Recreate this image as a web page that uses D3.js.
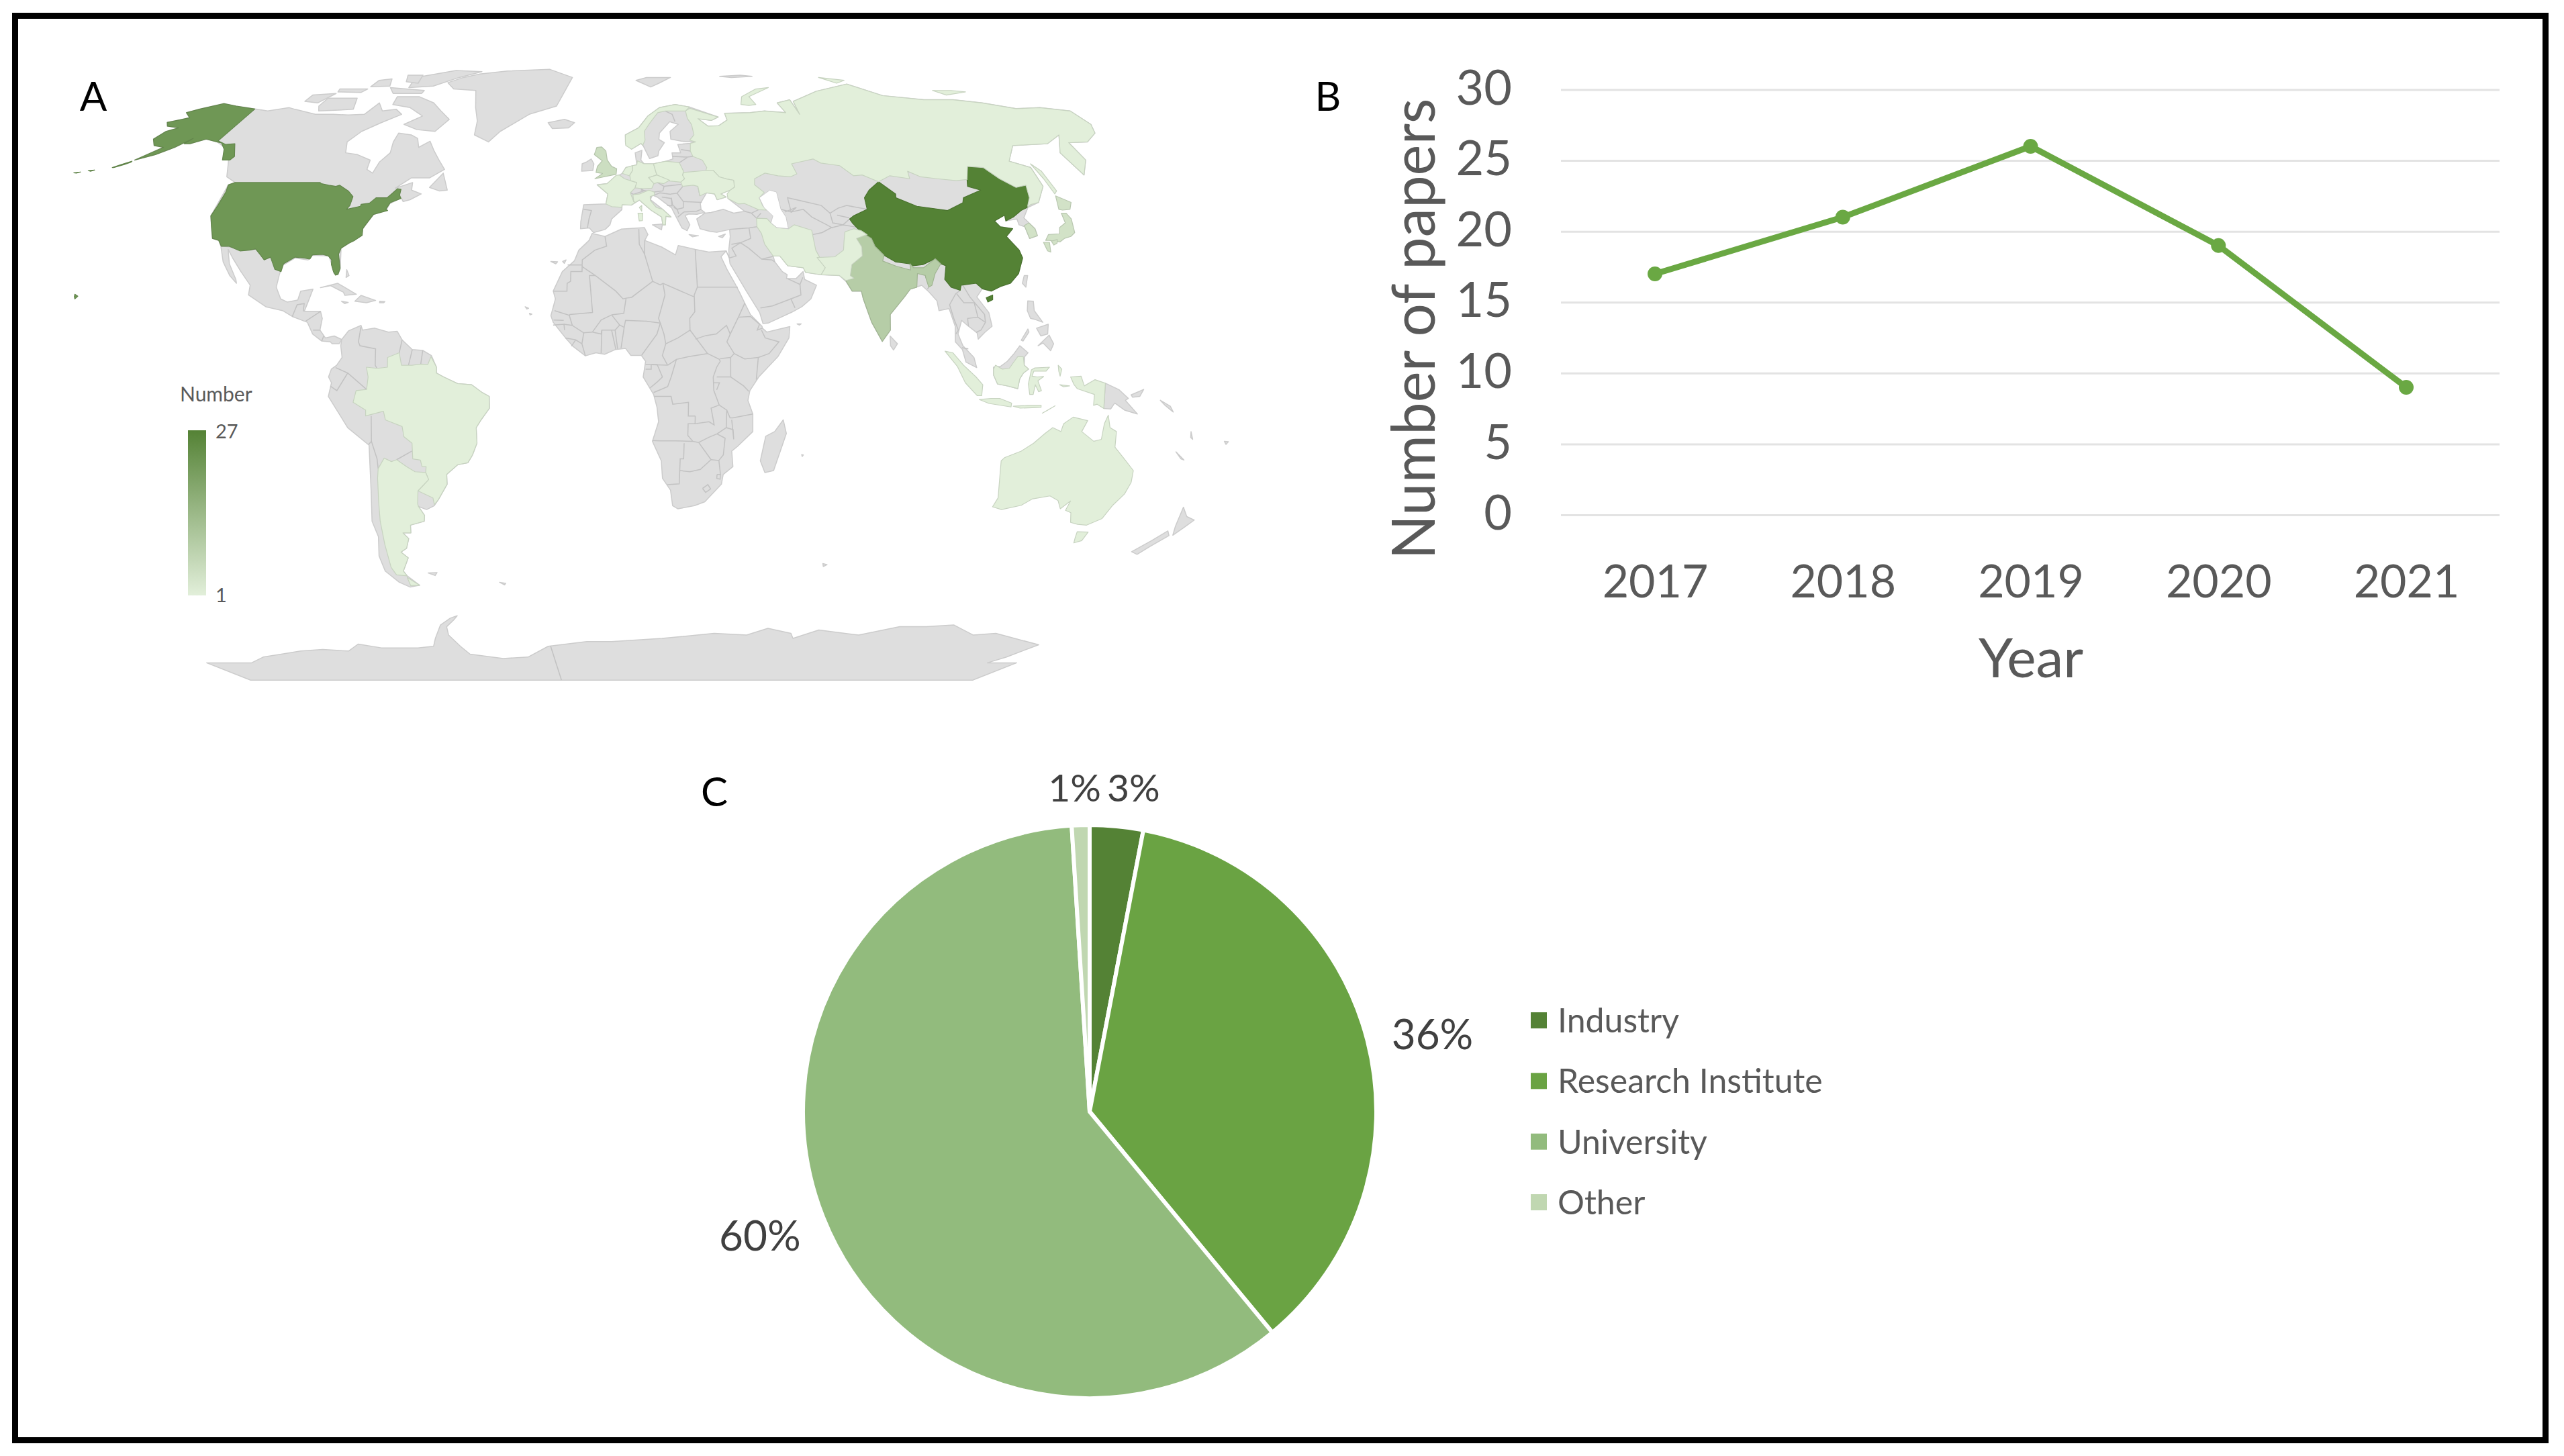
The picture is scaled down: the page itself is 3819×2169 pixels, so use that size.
<!DOCTYPE html>
<html>
<head>
<meta charset="utf-8">
<script src="https://cdn.jsdelivr.net/npm/d3@7"></script>
<style>
  html, body { margin: 0; background: #fff; }
  text { font-family: Lato, sans-serif; }
</style>
</head>
<body>
<svg id="figure" width="3819" height="2169"></svg>
<script>
// panel B
var years = ['2017', '2018', '2019', '2020', '2021'];
var paperCounts = [17, 21, 26, 19, 9];
var yTicks = [0, 5, 10, 15, 20, 25, 30];

// panel C
var orgNames = ['Industry', 'Research Institute', 'University', 'Other'];
var orgShares = [3, 36, 60, 1];
var orgColors = ['#548235', '#6aa343', '#92bb7d', '#c0d7b1'];

// panel A, papers per country and [lon, lat] outlines
var countryNames = ['China', 'USA', 'India', 'UK', 'Japan', 'South Korea', 'Russia', 'Brazil', 'Argentina',
  'Australia', 'Indonesia', 'France', 'Germany', 'Italy', 'Poland', 'Czechia', 'Netherlands', 'Ukraine',
  'Norway', 'Iran', 'Pakistan'];
var countryPapers = [27, 22, 9, 5, 4, 4, 1, 1, 1, 1, 1, 1, 1, 1, 1, 1, 1, 1, 1, 1, 1];

var legendRange = [1, 27];

// Robinson table, every 5 degrees of latitude
var robinsonLat = d3.range(0, 95, 5);
var robinsonLen = [1, .9986, .9954, .99, .9822, .973, .96, .9427, .9216, .8962, .8679, .835, .7986, .7597, .7186, .6732, .6213, .5722, .5322];
var robinsonDrop = [0, .062, .124, .186, .248, .31, .372, .434, .4958, .5571, .6176, .6769, .7346, .7903, .8435, .8936, .9394, .9761, 1];

var greyLand = [
  // north and central america
  [[-168,65.6],[-164,66.5],[-162,67],[-166,68.5],[-163,69.5],[-156.5,71.3],[-150,70.5],[-141,69.6],[-135,69],[-128,70],[-125,69.5],[-115,68],[-108,68],[-102,67.8],[-96,68],[-94,71.5],[-90,69],[-85,69.5],[-81.5,68],[-87,65.5],[-92,63],[-94.5,60],[-92.5,57],[-88,56.5],[-82.5,55],[-82,52.5],[-79.5,51.5],[-79,54.5],[-77,57],[-78,60],[-78,62.5],[-73,62],[-70,61],[-68,58.5],[-65,60.2],[-62,57.5],[-59,55],[-56,52.5],[-60,50.2],[-66,50.2],[-70,47.5],[-65,49],[-64.5,47],[-61,46],[-64,44.5],[-66,44],[-67,45],[-70,43.5],[-70.5,41.8],[-74,40.6],[-76,37],[-75.7,35.2],[-78,34],[-81,32],[-80,27],[-80.3,25.2],[-81.5,25.5],[-82.8,28],[-84,30],[-89,30.2],[-90,29],[-94,29.5],[-97.3,27.5],[-97.5,25],[-97.8,22],[-96,19],[-94,18.2],[-91,18.7],[-90.5,21],[-87,21.5],[-88,18],[-88.7,15.8],[-84,15.8],[-83.3,14],[-83.7,11],[-82,9],[-79.5,9.5],[-77.3,8.6],[-78,7.5],[-80,7.5],[-80.5,8],[-83,8.2],[-85.7,10],[-87.5,13],[-92,14.5],[-95,16],[-100,17],[-105.5,20],[-105.5,22.5],[-109,26],[-112.5,29.5],[-114.7,31.7],[-113,28],[-110,24],[-109.6,23],[-112,25],[-115,28.5],[-117.2,32.5],[-118.5,34],[-120.6,34.5],[-122.5,37.5],[-124.3,40.3],[-124.7,48.3],[-123,49],[-127,50.5],[-130,54],[-133,57],[-137,58.7],[-141,60],[-146,60.8],[-150,59.5],[-152,59.5],[-151,61],[-154,58.5],[-158,56.5],[-163,55],[-158,58.5],[-162,59],[-165,60.8],[-164,63],[-161,64],[-166,64.5]],
  [[-80,73.5],[-72,71.5],[-67,69],[-62,66.5],[-65,63],[-72,63.5],[-78,65],[-73,67.5],[-80,70],[-88,71],[-89,73.5]],
  [[-117,73],[-105,73],[-102,69.5],[-115,69],[-117,70.5]],
  [[-125,74],[-116,74.5],[-119,71.5],[-125,72]],
  [[-90,80],[-75,83],[-62,82.5],[-70,80],[-78,77],[-88,76.5]],
  [[-96,76.5],[-80,75.5],[-80,74.5],[-92,74.5]],
  [[-95,81],[-88,81],[-86,78],[-92,78.5]],
  [[-117,76],[-105,76],[-106,74.8],[-116,75]],
  [[-105,79],[-100,79.5],[-97,77],[-105,76.8]],
  [[-59,47.7],[-56,51.5],[-53,47],[-55.5,46.8]],
  [[-73,78.2],[-68,76],[-58,75.5],[-54,70],[-51,66],[-50,62],[-44,60],[-41,63],[-32,68],[-22,70.5],[-20,75],[-18,80],[-30,83.5],[-50,82.8],[-62,81.5],[-68,80]],
  [[-84.9,21.9],[-80,23],[-74.2,20.2],[-77.5,19.9],[-78,20.7],[-82,22.4]],
  [[-74.4,18.4],[-72.8,19.9],[-68.4,18.6],[-71,18]],
  [[-78.3,18.4],[-76.3,18.1],[-77.3,17.8]],
  [[-67.2,18.4],[-65.7,18.3],[-66,18],[-67.2,18]],
  [[-78,26.5],[-77,25],[-77.8,24.5]],
  // south america
  [[-77.3,8.6],[-75.5,10.8],[-72,12.2],[-71.5,11],[-68,11.5],[-64,10.5],[-61.5,10.7],[-60,8.5],[-57,6],[-54,5.8],[-51.5,4.5],[-50,1.5],[-50,0],[-48,-1],[-44,-2.7],[-40,-3],[-37,-5],[-35,-6],[-35,-9],[-37.5,-12],[-39,-14],[-39,-18],[-40.5,-21],[-42,-23],[-45,-23.5],[-48.5,-26],[-48.7,-28.5],[-52,-32.5],[-53.5,-34],[-56,-35],[-58.3,-34.2],[-57,-36.5],[-57.5,-38],[-62,-39],[-62.5,-41],[-65,-41],[-63.7,-42.5],[-65.3,-45],[-67.5,-46],[-65.8,-47.5],[-69,-51],[-68.4,-52.3],[-65.5,-54.8],[-69,-55.3],[-72,-54],[-75,-51],[-75,-47],[-73,-42],[-73.5,-38],[-71.5,-30],[-70.3,-18.5],[-76,-14],[-81,-6],[-80,-2.5],[-80.8,-1],[-80,1],[-78.5,2],[-77,4],[-77.5,7]],
  [[-61,-51.5],[-58,-51.4],[-59,-52.2]],
  [[-38,-54],[-36,-54.3],[-36.5,-54.7]],
  // africa
  [[-5.9,35.8],[-2,35],[3,36.9],[10,37.3],[11,35.5],[10,34],[15,32.3],[19,30.3],[20,32.7],[25,31.7],[29,31],[32.5,31.2],[34.2,31.3],[32.5,29.8],[34,26.5],[36,23],[37.3,20.5],[38.5,18],[40,15],[43.2,12],[43.3,11.5],[44.5,10.5],[51.2,11.9],[50.8,9],[47.5,4.2],[42,-1],[39.5,-4.5],[39,-7],[40.5,-10.5],[40.7,-15],[36.5,-18.8],[34.9,-20],[35.5,-24],[32.8,-26],[32.5,-28.5],[28,-33],[25,-34],[20,-34.8],[18.4,-34],[17.5,-30],[15,-27],[14.5,-22.5],[11.8,-17.5],[13.5,-12.5],[13,-8.8],[12,-5.5],[9,-1],[9.7,3],[8.5,4.5],[5.5,4.5],[4,6.3],[1,6],[-2,4.8],[-4.5,5.2],[-7.5,4.4],[-11,6.8],[-13.2,9],[-15,11],[-16.8,13],[-17.5,14.7],[-16.3,19],[-17,21],[-14.5,26],[-11,28.8],[-9.8,31.5],[-6.8,34]],
  [[49.3,-12],[50.4,-15.5],[47.5,-25],[45,-25.5],[43.4,-22.5],[44.5,-16.2],[47,-15]],
  [[-18,28.6],[-16,28.5],[-16.5,28]],
  [[-14.5,28.6],[-13.5,29],[-14,28.1]],
  [[-25,17],[-24,16.6],[-24.5,16.4]],
  [[-23.7,15.3],[-23,15.1],[-23.5,14.9]],
  [[53.3,12.6],[54.5,12.6],[54,12.3]],
  [[55.3,-20.9],[55.8,-21],[55.5,-21.4]],
  // eurasia
  [[-9.5,37],[-9.5,38.8],[-8.8,43.2],[-1.8,43.4],[-1.2,46],[-4.7,48.4],[-1.5,48.7],[1.5,50.5],[3.5,51.4],[4.8,53],[8.5,53.7],[8.2,57],[10.6,57.7],[10,55],[11,54],[14.2,54],[18.5,54.7],[21,55.3],[21,57],[24,57],[23.5,59.3],[28,59.6],[30,60],[25,60.2],[21.3,60.8],[21.5,63],[25,65],[22,65.8],[17.5,62.5],[17,60.7],[18.8,59.8],[16.5,57.5],[16,56.2],[13,55.4],[11.2,58.9],[10.5,59.6],[7,58],[5,59.5],[5,62],[10,64],[14,67.5],[19,70],[25.5,71],[31,70.2],[41,67.2],[38,66.2],[33,66.7],[36,64.5],[40,64.6],[44,66.3],[44,68.3],[54,68.5],[60,69],[68,68.5],[67,71.5],[73,72.5],[73,68],[74,72],[80,73.5],[87,75.2],[104,77.7],[113,73.8],[128,72.5],[140,72.5],[150,71.5],[160,69.7],[170,70],[180,69],[180,65],[177,62.5],[170,60],[163,59.8],[162,55],[156.5,51],[156,57],[163,62],[155,59.5],[142,59],[135.5,54.7],[141,53],[140,48],[135,43.8],[130.7,42.5],[127.5,39.8],[129.3,37],[129,35.2],[126.3,34.5],[126.5,37.5],[125,38],[125.2,39.5],[121.5,39],[122,40.5],[118,39],[119,37.5],[122.5,37],[119.5,35],[121.8,31.5],[122,29.5],[119.5,25.5],[116.5,23],[113.5,22.2],[110.5,21],[108,21.6],[106,19.5],[108.8,15.5],[109.3,12],[107,10.4],[105,8.7],[104.8,10.3],[102.5,12],[100.7,13.5],[99.3,10],[100.5,7],[103.5,4],[104.2,1.4],[101.2,2.8],[100.3,6],[98.4,8],[98.7,12],[97.5,16.5],[94.5,16],[94.3,18.5],[92.3,20.8],[90.5,22.5],[87,21.5],[85,19.5],[80.3,15],[80,11],[77.5,8.1],[74.8,13],[73,19],[72.7,21],[70,21],[68.5,23.5],[66.8,25],[61.5,25.2],[57,25.8],[56.5,27],[52,27.5],[50,30],[48,30],[48.3,28.5],[50.2,26],[51.5,25.2],[51.2,24.2],[54,24.2],[56.3,26],[56.5,24],[59.8,22.5],[57.8,19],[55,17],[52,15.6],[45,12.8],[43.5,12.7],[42.7,15.5],[39.2,21],[35,28],[34.9,29.5],[35,31.5],[35.9,35],[36,36.8],[32,36.1],[30,36.3],[27,37],[26.3,39.5],[29,41],[31,41.2],[35,42],[38,41],[41.5,41.5],[37,44.8],[38,47],[35,46],[36.5,45.2],[33.5,44.5],[33,46],[30.5,46.3],[28,43.5],[28,41.9],[29,41.2],[26.5,40.7],[24,40.8],[22.8,40.4],[24,38],[23,36.5],[21.5,37.2],[19.5,41],[18.8,42.4],[14.5,45.2],[13,45.7],[12.3,44.5],[16,42],[18.4,40],[16.8,40.2],[16.5,38],[15.7,38],[15.5,40],[12.3,41.8],[10.3,43.3],[8.8,44.4],[6.2,43.1],[3.3,43.2],[3.2,41.9],[0,39.5],[-0.5,38],[-2,36.8],[-5.5,36],[-6.8,37.2]],
  [[-10,52],[-6.3,52.2],[-6,54],[-7,55.3],[-8.5,54.5],[-10,54]],
  [[-24,65.5],[-18,66.5],[-14,65.5],[-16,64],[-22,63.8]],
  [[12.5,38],[15.6,38.2],[15.2,36.7]],
  [[23.5,35.5],[26.3,35.2],[24.5,34.9]],
  [[32.4,35],[34.5,35.6],[33.5,34.7]],
  [[11,79],[16,80],[27,80],[21,78],[17,76.7]],
  [[50,80.5],[60,81],[65,80.5],[55,80]],
  [[121,25],[122,25],[120.8,22],[120,23]],
  [[79.8,9.5],[81.8,7.5],[80.6,5.9],[79.8,7]],
  [[120,16],[120.6,18.5],[122.2,18.4],[122,16],[124,13],[122,13.7],[120.6,14]],
  [[122,7],[125.4,9.7],[126.5,7.5],[125.5,5.7],[123.5,7.7]],
  [[122,11.5],[125.5,12.5],[125,10],[123,9.5]],
  [[117.3,8.4],[119.5,11.3],[119.7,10.5],[117.8,8.2]],
  [[109,1.5],[111,1.7],[113,3],[115,5],[116.8,7],[119,5.2],[118,4.2],[117.8,2],[119,1],[117.5,0],[116.5,-1.5],[116,-4],[113,-3.3],[110.2,-2.8],[109,-0.5]],
  [[141,-2.6],[145,-4.3],[147.8,-6.5],[147,-7],[150.8,-10.5],[147,-9.5],[144,-7.7],[143,-9.2],[141,-9.1]],
  [[148.5,-5.6],[152,-4.2],[151,-6],[149,-6.2]],
  [[157,-7],[160,-8.5],[161,-10],[158.5,-8.3]],
  [[164,-20.2],[167,-22.3],[166,-22]],
  [[167,-15],[168,-17],[167.3,-16.5]],
  [[177.3,-17.5],[178.5,-17.6],[178,-18.3]],
  [[69,-49],[70.5,-49.3],[69.5,-49.8]],
  // new zealand
  [[172.7,-34.4],[175.5,-36.8],[178.5,-37.7],[177,-39.5],[175.3,-41.6],[174,-39.3]],
  [[172.7,-40.5],[174.2,-41.7],[171,-44.5],[169,-46.6],[166.5,-45.9],[170,-43]],
  // antarctica, cut off at 85 south
  [[-180,-78],[-160,-78],[-150,-76],[-140,-75],[-130,-74],[-120,-73.5],[-110,-74],[-103,-71.8],[-95,-73],[-80,-73],[-73,-72.5],[-70,-70],[-65,-66],[-60,-64],[-57,-63.3],[-59,-64.5],[-63,-66.5],[-64,-69],[-62,-72.5],[-60,-75],[-47,-76.5],[-36,-76],[-26,-72.5],[-10,-71],[0,-71],[20,-70],[40,-68.5],[53,-69],[60,-67],[70,-68.5],[72,-70],[80,-67.5],[97,-69],[110,-66.5],[120,-66.5],[130,-66],[142,-69],[150,-68.5],[160,-70],[174,-72],[170,-76],[167,-78],[180,-78],[180,-85],[-180,-85]]
];

var greyBorders = [
  // africa
  [[-2,35],[-1.5,32.5],[-5,31.5],[-8.7,29],[-8.7,27.7]],[[-13,27.7],[-8.7,27.7]],
  [[-17,21],[-13,21],[-13,23],[-12,23.5],[-12,26],[-8.7,26],[-8.7,27.7]],
  [[-4.8,25],[-8.7,27.3]],[[-4.8,25],[-6.5,25],[-5.5,15.5],[-12,15],[-12.2,14.8],[-16.5,16]],
  [[-4.8,25],[1.2,21],[3.3,19],[4.2,19.2],[5.8,19.4],[12,23.5]],
  [[12,23.5],[9.8,30.5],[10,34]],[[8.3,36.9],[8.3,33],[9.8,30.5]],
  [[25,31.7],[25,22]],[[25,22],[24,20],[24,19.5]],[[24,19.5],[15,23],[14.2,22.6],[12,23.5]],[[25,22],[36.8,22]],
  [[15,23],[15.5,20],[13.5,14],[14,12.8]],[[24,19.5],[24,15.7],[22.5,14],[22.5,11],[19,9],[15.5,7.5],[15,10],[14,12.8]],
  [[4.2,19.2],[3.5,15.3],[0,14.9]],[[0,14.9],[-3,13.6],[-5.5,10.5]],[[-12.2,14.8],[-11.3,12.2],[-8,10.3],[-5.5,10.5]],
  [[14,12.8],[10,13.3],[4,13.5],[3.6,11.7],[2.7,6.4]],[[0,14.9],[2.3,12.3],[3.6,11.7]],
  [[-5.5,10.5],[-3,10],[-2.8,11],[1,11],[2.3,12.3]],[[-2.8,11],[-3,5.1]],[[0,11],[1.2,6.1]],[[1,11],[1.7,6.2]],
  [[-8,10.3],[-8.5,7.5],[-7.5,4.4]],[[-11.5,6.9],[-10.3,8.5]],[[-13.2,9],[-10.3,8.5],[-8.5,7.5]],
  [[-16.8,12.3],[-13.7,12.5],[-13.5,11]],[[-13.7,12.5],[-11.3,12.2]],[[-16.7,13.6],[-13.8,13.5]],
  [[14,12.8],[13,10],[8.6,4.6]],[[15.5,7.5],[14.5,4.5],[16,2]],[[9.7,2.2],[16,2]],
  [[11.3,2.2],[13,2.2],[14.5,-1],[13,-2.3],[11,-3.8]],[[9.7,1],[11.3,1],[11.3,2.2]],
  [[22.5,11],[27.4,5]],[[16,2],[18.5,3.5],[22,4.2],[27.4,5]],[[18.5,3.5],[17,-1],[16,-3.5],[12,-5]],
  [[12.2,-6],[17,-6],[17.5,-8],[22,-7.5],[22,-11],[24,-11]],[[24,-11],[24,-13],[28,-12.5],[29.5,-13.3],[28.5,-9],[30.8,-8.2]],
  [[30.8,-8.2],[29.2,-4.5],[29,-1],[30,1.5],[31,3],[30.8,3.5],[27.4,5]],
  [[24,8.7],[27,9.6],[30,10],[33,12.2],[34,10]],[[34,10],[33,8],[35,5],[34,4]],[[31,3.7],[34,4]],
  [[38.6,18],[36.5,14.3],[34,10]],[[36.5,14.3],[40,14.5],[42.5,12.5]],[[42.5,12.5],[41.8,11],[43.3,11.5]],
  [[43,11],[44,9],[47.9,8],[45,5],[41.9,4],[41.3,-1.7]],[[35,5],[38,3.6],[41.9,4]],[[34,4],[34,-1]],
  [[34,-1],[37.7,-3.3],[39.2,-4.7]],[[30,-1],[34,-1]],[[29,-2.5],[30.8,-2.5],[30,-4.3]],
  [[30.8,-8.2],[33,-9.5],[34,-11.5],[34.8,-11.5],[40.5,-10.5]],[[33,-9.5],[33,-14],[35,-14.5],[35.3,-17],[34.5,-12]],
  [[30.4,-15.6],[33,-14]],[[30.4,-15.6],[32.8,-16.7],[32.5,-21],[31.3,-22.4],[32,-26]],
  [[25.2,-17.8],[28,-16.5],[30.4,-15.6]],[[24,-13],[22,-13],[22,-16],[23.5,-17.5],[25.2,-17.8]],
  [[11.8,-17.3],[14,-17.4],[18.5,-17.4],[23.5,-17.5]],[[21,-18],[21,-22],[20,-22],[20,-28.4],[16.5,-28.6]],
  [[25.2,-17.8],[29,-22.2],[26,-24.7],[23,-25.3],[20,-25]],[[29,-22.2],[31.3,-22.4]],
  [[27,-29.6],[28.5,-28.6],[29.4,-29.7],[28,-30.6],[27,-29.6]],[[31,-26],[32,-26],[32,-27.2],[31,-27],[31,-26]],
  // south and central america
  [[-72,11.8],[-72.5,8],[-72,7],[-67.5,6.2],[-67.5,2],[-67,1.2]],[[-78.8,1.4],[-75.3,0],[-70,-4.2]],
  [[-80.3,-3.4],[-78.5,-4.5],[-75.3,0]],[[-69,-11],[-69.5,-17.5],[-68.4,-22],[-68.4,-24.5]],[[-70.4,-18.3],[-69.5,-17.5]],
  [[-58,-20],[-62.7,-22.2]],[[-60,8.5],[-60.7,5.2]],[[-57,6],[-58,2]],[[-54,5.8],[-54.5,2.3]],
  [[-117.1,32.5],[-106.5,31.8]],[[-92,14.5],[-91,17.5],[-89,17.8],[-89,15.8]],[[-88,13.3],[-84,15.8]],
  [[-85.7,11],[-83.7,11]],[[-83,8.2],[-82.5,9.5]],
  // europe
  [[24,65.8],[23.5,68],[21,69]],[[21,56],[26,55.8],[28,56]],[[24.3,57.9],[27.5,57.5]],[[23,54.3],[26,55.7]],
  [[17,48],[22.6,48.5]],[[21,46.2],[23,47.9]],[[22.7,44],[28.5,43.8]],
  [[19,46],[21,46.2],[22.7,44],[22.5,42.4],[20.5,42],[19.2,43.2],[19,45]],[[22.5,41.3],[26.5,41.5],[28,42]],
  [[20.5,40],[22.5,41.3]],[[19.5,42.5],[20.5,42],[20.9,40.8]],[[13.7,45.7],[15.5,46.3],[19,45.9]],
  [[16,45.2],[19,44.8],[19,42.9],[17.5,43]],[[9.6,47.4],[9.6,47],[13.7,46.5],[16.5,46.8],[17,48],[15,49]],
  [[6,46.3],[7,45.9],[10.4,46.8],[9.6,47.5]],[[-8.8,42],[-6.3,41.7],[-7,39.5],[-7.4,37.2]],[[28.2,45.5],[28,48]],
  // middle east and asia
  [[36,36.8],[42,37.2],[44.5,37.5]],[[44.8,39.7],[43.5,41]],[[41.5,41.5],[43.5,41],[46,41.9]],[[44.8,39.7],[46.5,41]],
  [[36,33],[38.8,33.4],[42,34.5],[42,37.2]],[[38.8,33.4],[41,32],[44.5,29.2],[47.5,29.8],[48,30]],
  [[35,29.5],[37,30],[36,32],[38.8,33.4]],[[34.2,31.3],[34.9,29.5]],[[44.5,29.2],[47.5,29],[48.3,28.5]],
  [[51.5,24.2],[55,22.7],[56,24.5]],[[55,22.7],[55,20],[52,19],[53,16.7]],[[43,16.7],[46.5,17.2],[52,19]],
  [[53,42],[56,41.3],[56,45],[61,44],[66,43],[68,41],[71,42.3],[74,43],[80,42]],[[54,41.3],[58,42.5],[56,41.3]],
  [[56,41.3],[60,42],[62,40],[66,38],[67.5,37.2]],[[61,35.5],[64,36],[67,37.2],[71,38],[74.9,37.4]],
  [[68,41],[68,38.5],[71,38],[73.5,39.5]],[[70,40.5],[73.5,39.8]],
  [[101.5,21.2],[100,20.3],[97.8,17.5],[98.5,14],[99.5,11],[98.7,10]],[[102.5,22.5],[104,19.5],[107.5,15],[107.5,13]],
  [[100.3,20.3],[102,18],[105,18],[105.5,14.3]],[[102.5,12],[102.5,14],[105.5,14.3],[107.5,13],[106,11],[104.5,10.4]],
  [[100.2,6.5],[102,6.2]],[[92,21.5],[92.5,22]],
  // antarctic seam
  [[-25,-72.5],[-25,-85]]
];

var countryShapes = [
  // china
  [[[73.5,39.5],[75,40.3],[80,42],[80.5,45],[83,47],[87.3,49.2],[91,46],[90.5,45],[96,42.8],[105,41.7],[111,43.7],[112,45],[119,47],[115.5,48],[116.7,49.8],[120,53.3],[125,53],[127.5,50],[131,47.7],[134.7,48.3],[133,45],[131,43],[130.5,42.5],[128,41.7],[124.4,40],[121.5,39],[122,40.5],[118,39],[119,37.5],[122.5,37],[119.5,35],[121.8,31.5],[122,29.5],[119.5,25.5],[116.5,23],[113.5,22.2],[110.5,21],[108,21.6],[106.5,23],[102,22.5],[101.5,21.2],[99,22],[97.5,24],[98.7,27.5],[97.3,28],[96,29.3],[92,27.8],[89,27.5],[88,28],[84,28.5],[81,30.2],[79,32.5],[78.5,34.5],[75.5,36.6],[74,38.5]],
   [[108.7,19.3],[110.7,20],[110.5,18.8],[109,18.2]]],
  // usa
  [[[-124.7,48.4],[-123,49],[-95.2,49],[-94.6,48.7],[-92,48.3],[-89.5,48],[-88.4,48.3],[-84.8,46.8],[-82.5,45.3],[-82.4,43],[-83,42],[-79,42.8],[-79,43.3],[-76.5,43.6],[-75,45],[-71.5,45],[-70.3,46.2],[-69.2,47.4],[-68,47.2],[-67.8,45.7],[-67,44.8],[-70,43.7],[-70.7,42],[-70,41.7],[-74,40.7],[-75.5,38],[-76,37],[-75.6,35.3],[-77.5,34],[-79,33.3],[-81,32],[-81.3,30.5],[-80,26.8],[-80.3,25.3],[-81,25.1],[-81.8,26],[-82.8,27.8],[-83,29],[-84.2,30],[-86,30.4],[-89,30.3],[-89.5,29.2],[-91.5,29.5],[-94,29.7],[-97,28],[-97.2,26],[-99.2,26.6],[-101.3,29.7],[-103,29],[-104.8,30.5],[-106.5,31.8],[-108.2,31.5],[-111,31.3],[-114.8,32.5],[-117.1,32.5],[-118.5,34],[-120.6,34.5],[-122.5,37.5],[-124.3,40.3],[-124,43],[-124,46.5]],
   [[-141,69.6],[-150,70.5],[-156.5,71.3],[-163,69.5],[-166,68.5],[-162,67],[-164,66.5],[-168,65.6],[-166,64.5],[-161,64],[-164,63],[-165,60.8],[-162,59],[-158,58.5],[-163,55],[-158,56.5],[-154,58.5],[-151,61],[-152,59.5],[-150,59.5],[-146,60.8],[-141,60],[-139,59.7],[-136,58],[-133,55],[-130.5,55],[-130,56],[-134,59.5],[-137,59.3],[-141,60.3]],
   [[-163.5,54.7],[-166,53.8],[-168,53],[-167.5,53],[-165,53.8],[-163.5,54.4]],
   [[-175,52.2],[-173,52.3],[-174,52]],
   [[-179,51.6],[-177,51.8],[-178,51.5]],
   [[-156,20.2],[-155,19.7],[-155.7,19],[-156,19.6]]],
  // india
  [[[74,34.5],[77,35.5],[78.5,34.5],[79,32.5],[81,30.2],[80.3,28.7],[84,27.4],[88,26.4],[88.2,28],[89,27],[92,27],[96,29.3],[97.3,28],[95,25.5],[93.5,22.5],[92.5,22],[92,24.5],[92,25],[89.8,25.5],[89,22],[87,21.5],[85,19.5],[80.3,15],[80,11],[77.5,8.1],[74.8,13],[73,19],[72.7,21],[70,21],[68.5,23.7],[71,24.3],[70,25],[71,27.8],[74.5,30],[75,32.3]]],
  // uk
  [[[-5.5,50],[1.5,51.2],[1.7,52.7],[0,53.3],[-1.5,55],[-2,57.5],[-3.5,58.6],[-5.2,58.5],[-6,56.5],[-3.2,54.8],[-4.8,53.3],[-5.2,51.7],[-3,51.4]]],
  // japan
  [[[130.9,34],[132.5,35.5],[136,35.7],[137,37.3],[139.5,38.5],[140,41],[141.5,41],[142,39.5],[140.8,36],[139,35],[136.8,34.5],[135,33.6],[132,34]],
   [[140,42],[141.8,45.5],[145.3,43.8],[143.5,42],[141,41.8]],
   [[130,33.5],[131.8,33.5],[131,31],[130.2,31.3]],
   [[132.5,33.8],[134.5,34.2],[134,33.3],[132.8,32.8]]],
  // south korea
  [[[126.3,34.5],[129,35.2],[129.3,37],[128.3,38.5],[126.5,37.8]]],
  // russia
  [[[31,69.8],[29,69],[29,66.8],[30,65],[30,62],[28,60.5],[30,60],[28,59.6],[27.5,57.5],[28,56],[31,55],[32,53],[31.5,52.2],[34,52.2],[35.5,50.5],[38,49.9],[40,49.6],[39.8,47.8],[38.2,47],[37,46],[37,44.8],[40,43.4],[42,43.5],[46,41.9],[48.5,41.8],[47.5,43],[47,45],[49,46.4],[46.5,48.4],[47,50],[51,51.5],[55,50.8],[59,50.5],[61.5,51.3],[61,54],[69,55.3],[71,54.2],[77,53.5],[80,50.8],[83,51],[87.3,49.2],[92,50.8],[98,50],[98.8,52],[102,50.5],[107,50],[113,49.5],[116.7,49.8],[120,53.3],[125,53],[127.5,50],[131,47.7],[134.7,48.3],[133,45],[131,43],[130.7,42.5],[132,43.2],[135,43.8],[140,48],[141,53],[135.5,54.7],[142,59],[155,59.5],[163,62],[156,57],[156.5,51],[162,55],[163,59.8],[170,60],[177,62.5],[180,65],[180,69],[170,70],[160,69.7],[150,71.5],[140,72.5],[128,72.5],[113,73.8],[104,77.7],[87,75.2],[80,73.5],[74,72],[73,68],[73,72.5],[67,71.5],[68,68.5],[60,69],[54,68.5],[44,68.3],[44,66.3],[40,64.6],[36,64.5],[33,66.7],[38,66.2],[41,67.2]],
   [[52,71],[55,70.7],[58,71],[57,73.5],[68,76.5],[62,76],[54,73.5]],
   [[142,54],[143.5,52],[143.3,46.8],[142,46],[142,50]],
   [[95,80],[105,79],[100,78]],
   [[137,75.5],[145,75.5],[150,75],[140,74]]],
  // brazil
  [[[-51.6,4.2],[-50,1.5],[-50,0],[-48,-1],[-44,-2.7],[-40,-3],[-37,-5],[-35,-6],[-35,-9],[-37.5,-12],[-39,-14],[-39,-18],[-40.5,-21],[-42,-23],[-45,-23.5],[-48.5,-26],[-48.7,-28.5],[-52,-32.5],[-53.4,-33.7],[-53.5,-32],[-57.6,-30.2],[-54,-27.3],[-54.6,-25.5],[-54.3,-24],[-55.5,-24],[-55.8,-22.3],[-58,-22],[-57.8,-18],[-60,-16.3],[-60.3,-13.7],[-65,-12],[-65.4,-9.8],[-70.6,-11],[-70.5,-9.5],[-74,-7.5],[-73,-4.5],[-70,-4.2],[-69.5,-1],[-70,1.5],[-66.9,1.2],[-64,1.5],[-64,4],[-60.7,5.2],[-60,2],[-57,2],[-54.5,2.3],[-52.5,2.2]]],
  // argentina
  [[[-66.3,-21.8],[-64.3,-22.7],[-62.7,-22.2],[-60,-24],[-57.7,-25.3],[-54.6,-25.5],[-54,-27.3],[-57.6,-30.2],[-58.4,-33.5],[-58.3,-34.2],[-57,-36.5],[-57.5,-38],[-62,-39],[-62.5,-41],[-65,-41],[-63.7,-42.5],[-65.3,-45],[-67.5,-46],[-65.8,-47.5],[-69,-51],[-68.4,-52.3],[-71.8,-52],[-72.5,-50],[-71.8,-44],[-71,-38],[-70,-33],[-69,-27],[-68.4,-24.5]],
   [[-68.6,-52.7],[-65.5,-54.8],[-68.6,-54.9]]],
  // australia
  [[[113.7,-22.5],[114.2,-26],[115.7,-32],[115,-34.3],[118,-35],[123.5,-33.9],[126,-32.3],[131,-31.5],[134,-32.7],[135.7,-34.8],[137.8,-32.8],[137.5,-35.2],[139.5,-35.8],[141,-38.3],[143.5,-38.8],[146.4,-39],[150,-37.3],[151,-34],[153,-31],[153.6,-28],[153,-25],[149.5,-22],[146,-19],[145.5,-15],[143.5,-14],[142.5,-10.8],[141.7,-13],[141.6,-17],[139.5,-17.5],[135.5,-15],[136.8,-12.2],[132.5,-11.3],[130,-13],[129.5,-15],[127,-14],[125,-15.5],[122.2,-18],[119,-20],[114.5,-21.7]],
   [[144.7,-40.7],[148.2,-40.8],[148,-43],[146,-43.6],[145.3,-42.2]]],
  // indonesia
  [[[95.3,5.6],[97.5,5.2],[100.5,2],[104,-1],[106,-3],[105.8,-5.8],[104.5,-5.8],[101,-2.5],[98.7,1.7]],
   [[105.2,-6.8],[108.5,-6.5],[111,-6.5],[114.5,-7.7],[114.4,-8.7],[108,-7.8]],
   [[115,-8.5],[119,-8.3],[123,-8.3],[123,-8.8],[117,-9]],
   [[123.5,-10.3],[127,-8.4],[125,-9.5]],
   [[109,1],[109.6,2],[111.5,1],[113.5,1.2],[115,3],[116,4.2],[117.6,4.2],[117.8,2],[119,1],[117.5,0],[116.5,-1.5],[116,-4],[113,-3.3],[110.2,-2.8],[109,-0.5]],
   [[119.8,0.8],[120.8,1.3],[125,1.5],[124,0.5],[120.5,0.5],[120,-0.8],[121.5,-1],[123.3,-0.9],[121.7,-2],[122.8,-4.5],[122,-4.8],[121,-3],[120.5,-5.5],[119.5,-5.5],[119,-2.8]],
   [[131,-1],[134,-0.8],[135,-3.3],[138,-1.7],[141,-2.6],[141,-9.1],[139,-8],[138,-8.3],[138,-5.5],[133,-4],[132,-2.9]],
   [[127.5,2],[128.5,1],[128,-0.8],[127.6,0.5]],
   [[128,-3],[130.8,-3.3],[129,-3.5]]],
  // france
  [[[-1.8,43.4],[-1.2,46],[-4.7,48.4],[-1.5,48.7],[1.5,50.9],[2.6,51],[4.2,50],[6.2,49.5],[8.2,49],[7.6,47.6],[6,46.3],[7,44],[7.5,43.8],[6.2,43.1],[3.3,43.2],[3.2,42.5],[0,42.7]],
   [[8.7,42.5],[9.5,43],[9.4,41.5]]],
  // germany
  [[[7,53.5],[8.5,53.7],[8.8,54.8],[11,54],[14.2,54],[14.7,52],[15,51],[12.2,50.3],[13.8,48.7],[13,47.5],[10,47.4],[7.6,47.6],[8.2,49],[6.2,49.5],[6,51],[7,52.2]]],
  // italy
  [[[7,44],[6.8,45.8],[9,46],[12,47],[13.7,46.5],[13.7,45.7],[12.3,45.3],[12.3,44.3],[14,42.5],[16,42],[18.4,40],[16.8,40.2],[16.5,38],[15.7,38],[15.5,40],[12.3,41.8],[10.3,43.3],[8.8,44.4],[7.5,43.8]],
   [[8.2,41],[9.7,41],[9.5,39.1],[8.5,39]]],
  // poland
  [[[14.2,54],[18.5,54.7],[23,54.3],[24,52],[23.5,51],[24,50],[22.6,49.1],[19,49.4],[15,51],[14.7,52]]],
  // czechia
  [[[12.2,50.3],[15,51],[19,49.6],[17,48.7],[15,49],[13.8,48.7]]],
  // netherlands
  [[[3.5,51.4],[4.8,53],[7,53.5],[7,52.2],[6,51],[5.8,50.8],[4,51.3]]],
  // ukraine
  [[[24,51.7],[31.5,52.2],[34,52.2],[35.5,50.5],[38,49.9],[40,49.6],[39.8,47.8],[38.2,47],[35,46],[36.5,45.2],[33.5,44.5],[33,46],[30.5,46.3],[28.2,45.5],[28,48],[26.5,48.3],[23,48],[22.6,49.1],[24,50],[23.5,51]]],
  // norway
  [[[4.9,60],[5,62],[10,64],[14,67.5],[19,70],[25.5,71],[31,70.2],[29,69],[25.5,69],[21,69],[18,68.5],[14.5,65.5],[12,63],[12,60.5],[11,59],[10.5,59.6],[7,58],[5,59]]],
  // iran
  [[[44.8,39.7],[48,39.6],[49,38.5],[50.5,37.3],[54,37],[56,38],[61,36.6],[61,31.5],[63,27],[61.5,25.2],[57,25.8],[56.5,27],[52,27.5],[50,30],[48,30],[46,33],[45.5,35.8],[44.5,37.5]]],
  // pakistan
  [[[61,29.6],[66.3,29.8],[69.3,31.5],[70,33.7],[71,36.2],[74,37],[76,36.5],[77.5,35.5],[74,34.5],[75,32.3],[74.5,30],[71,27.8],[70,25],[71,24.3],[68.5,23.7],[66.8,25],[61.5,25.2],[63,27]]]
];

var caspianSea = [[47,45],[51,47],[53,46.5],[53,42],[54,40],[54,37],[50.5,37.3],[49,38.5],[50,40.3],[47.8,42.5]];

var svg = d3.select('#figure');
var labelGrey = '#595959';

// frame and panel letters
svg.append('rect').attr('x', 22.5).attr('y', 23.5).attr('width', 3769).attr('height', 2122)
    .attr('fill', 'none').attr('stroke', '#000').attr('stroke-width', 9);

svg.selectAll('.panel-letter')
    .data([['A', 139, 165], ['B', 1978, 165], ['C', 1064, 1201]])
    .enter().append('text')
    .attr('class', 'panel-letter')
    .attr('x', function(d) { return d[1]; })
    .attr('y', function(d) { return d[2]; })
    .attr('text-anchor', 'middle')
    .attr('font-size', 60)
    .attr('fill', '#000')
    .text(function(d) { return d[0]; });

// --- A: map ---
var lenAt = d3.scaleLinear().domain(robinsonLat).range(robinsonLen);
var dropAt = d3.scaleLinear().domain(robinsonLat).range(robinsonDrop);

function robinsonRaw(lambda, phi) {
  var lat = Math.abs(phi) * 180 / Math.PI;
  return [0.8487 * lenAt(lat) * lambda, 1.33 * dropAt(lat) * (phi < 0 ? -1 : 1)];
}

var projection = d3.geoProjection(robinsonRaw).scale(352.4).translate([911, 555.7]);
var closedRing = d3.line().curve(d3.curveLinearClosed);
var openLine = d3.line();

function ringPath(ring) { return closedRing(ring.map(function(p) { return projection(p); })); }
function linePath(pts) { return openLine(pts.map(function(p) { return projection(p); })); }

var paperColor = d3.scaleLinear().domain(legendRange).range(['#e2efda', '#548235']);

var map = svg.append('g').attr('class', 'map');

map.append('g').selectAll('path')
    .data(greyLand)
    .enter().append('path')
    .attr('d', ringPath)
    .attr('fill', '#dedede')
    .attr('stroke', '#cccccc')
    .attr('stroke-width', 1.5)
    .attr('stroke-linejoin', 'round');

map.append('g').selectAll('path')
    .data(greyBorders)
    .enter().append('path')
    .attr('d', linePath)
    .attr('fill', 'none')
    .attr('stroke', '#c2c2c2')
    .attr('stroke-width', 1.5);

var countries = map.append('g').selectAll('g')
    .data(countryShapes)
    .enter().append('g')
    .attr('data-name', function(d, i) { return countryNames[i]; });

countries.each(function(rings, i) {
  var fill = paperColor(countryPapers[i]);
  d3.select(this).selectAll('path')
      .data(rings)
      .enter().append('path')
      .attr('d', ringPath)
      .attr('fill', fill)
      .attr('stroke', d3.color(fill).darker(0.35))
      .attr('stroke-width', 1.2)
      .attr('stroke-linejoin', 'round');
});

map.append('path')
    .attr('d', ringPath(caspianSea))
    .attr('fill', '#fff')
    .attr('stroke', '#cccccc')
    .attr('stroke-width', 1);

// map legend
var barY = d3.scaleLinear().domain(legendRange).range([887, 641]);
var gradient = svg.append('defs').append('linearGradient')
    .attr('id', 'number-ramp')
    .attr('x1', 0).attr('y1', 1).attr('x2', 0).attr('y2', 0);
gradient.selectAll('stop')
    .data(legendRange)
    .enter().append('stop')
    .attr('offset', function(d) { return (d - legendRange[0]) / (legendRange[1] - legendRange[0]); })
    .attr('stop-color', function(d) { return paperColor(d); });

svg.append('rect')
    .attr('x', 280).attr('width', 27)
    .attr('y', barY(legendRange[1]))
    .attr('height', barY(legendRange[0]) - barY(legendRange[1]))
    .attr('fill', 'url(#number-ramp)');

svg.append('text').attr('x', 268).attr('y', 598)
    .attr('font-size', 30).attr('fill', labelGrey).text('Number');

svg.selectAll('.bar-label')
    .data(legendRange)
    .enter().append('text')
    .attr('class', 'bar-label')
    .attr('x', 321)
    .attr('y', function(d) { return barY(d) + (d === legendRange[1] ? 12 : 10); })
    .attr('font-size', 29)
    .attr('fill', labelGrey)
    .text(function(d) { return d; });

// --- B: line chart ---
var x = d3.scalePoint().domain(years).range([2465, 3584]);
var y = d3.scaleLinear().domain([0, 30]).range([767, 133.5]);

var lineChart = svg.append('g').attr('class', 'line-chart');

lineChart.append('g')
    .attr('transform', 'translate(2325,0)')
    .call(d3.axisLeft(y).tickValues(yTicks).tickSize(-1398).tickPadding(73))
    .call(function(g) {
      g.select('.domain').remove();
      g.selectAll('.tick line').attr('stroke', '#e3e3e3').attr('stroke-width', 3);
      g.selectAll('.tick text').attr('font-size', 72).attr('font-family', 'Lato').attr('fill', labelGrey)
          .attr('dy', '0.3em');
    });

lineChart.append('g')
    .attr('transform', 'translate(0,767)')
    .call(d3.axisBottom(x).tickSize(0).tickPadding(75))
    .call(function(g) {
      g.select('.domain').remove();
      g.selectAll('.tick text').attr('font-size', 68).attr('font-family', 'Lato').attr('fill', labelGrey);
    });

var trend = d3.line()
    .x(function(d, i) { return x(years[i]); })
    .y(function(d) { return y(d); });

lineChart.append('path')
    .attr('d', trend(paperCounts))
    .attr('fill', 'none')
    .attr('stroke', '#6aa843')
    .attr('stroke-width', 9);

lineChart.selectAll('circle')
    .data(paperCounts)
    .enter().append('circle')
    .attr('cx', function(d, i) { return x(years[i]); })
    .attr('cy', function(d) { return y(d); })
    .attr('r', 11)
    .attr('fill', '#6aa843');

lineChart.append('text')
    .attr('transform', 'translate(2137,490) rotate(-90)')
    .attr('text-anchor', 'middle')
    .attr('font-size', 90)
    .attr('textLength', 687)
    .attr('lengthAdjust', 'spacingAndGlyphs')
    .attr('fill', labelGrey)
    .text('Number of papers');

lineChart.append('text')
    .attr('x', 3025).attr('y', 1009)
    .attr('text-anchor', 'middle')
    .attr('font-size', 82)
    .attr('fill', labelGrey)
    .text('Year');

// --- C: pie ---
var pieLayout = d3.pie().sort(null).value(function(d) { return d; });
var slices = pieLayout(orgShares);
var sliceArc = d3.arc().innerRadius(0).outerRadius(427);
var labelArc = d3.arc().innerRadius(525).outerRadius(525);

var pieChart = svg.append('g').attr('class', 'pie').attr('transform', 'translate(1623,1656)');

pieChart.selectAll('path')
    .data(slices)
    .enter().append('path')
    .attr('d', sliceArc)
    .attr('fill', function(d, i) { return orgColors[i]; })
    .attr('stroke', '#fff')
    .attr('stroke-width', 6);

// the two thin slices sit tight under the rim, the others stay on the label ring
var labelNudge = [[16, 40], [2, 15], [-3, -9], [-6, 42]];

pieChart.selectAll('text')
    .data(slices)
    .enter().append('text')
    .attr('transform', function(d, i) {
      var c = labelArc.centroid(d);
      return 'translate(' + (c[0] + labelNudge[i][0]) + ',' + (c[1] + labelNudge[i][1]) + ')';
    })
    .attr('dy', '0.36em')
    .attr('text-anchor', 'middle')
    .attr('font-size', function(d) { return d.value < 5 ? 57 : 62; })
    .attr('fill', '#404040')
    .text(function(d) { return d.value + '%'; });

var legendY = d3.scalePoint().domain(orgNames).range([1520, 1791]);

var pieLegend = svg.append('g').selectAll('g')
    .data(orgNames)
    .enter().append('g')
    .attr('transform', function(d) { return 'translate(2280,' + legendY(d) + ')'; });

pieLegend.append('rect')
    .attr('y', -12).attr('width', 24).attr('height', 24)
    .attr('fill', function(d, i) { return orgColors[i]; });

pieLegend.append('text')
    .attr('x', 40).attr('dy', '0.36em')
    .attr('font-size', 50)
    .attr('fill', labelGrey)
    .text(function(d) { return d; });
</script>
</body>
</html>
